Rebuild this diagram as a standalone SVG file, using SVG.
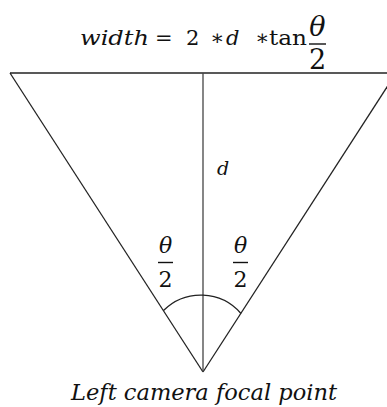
<svg xmlns="http://www.w3.org/2000/svg" width="387" height="407" viewBox="0 0 387 407">
<style>
.ln{stroke:#222;stroke-width:1.3;fill:none}
.t{font-family:"DejaVu Serif","Liberation Serif",serif;font-size:21px;fill:#111}
.i{font-style:italic}
.f{font-size:22px}
.big{font-size:27px}
.bar{stroke:#111;stroke-width:1.4}
</style>
<rect width="387" height="407" fill="#fff"/>
<g id="connectors">
<line class="ln" x1="10" y1="73" x2="387" y2="73"/>
<line class="ln" x1="10" y1="73" x2="203" y2="372"/>
<line class="ln" x1="396" y1="73" x2="203" y2="372"/>
<line class="ln" x1="203" y1="73" x2="203" y2="372" style="stroke:#444"/>
<path class="ln" d="M163.5,310.5 A53,53 0 0 1 241,313.5"/>
</g>
<g id="formula">
<text class="t i" x="80" y="45" textLength="69" lengthAdjust="spacingAndGlyphs">width</text>
<text class="t" x="155" y="45">=</text>
<text class="t" x="186" y="45">2</text>
<text class="t" x="210" y="45">∗</text>
<text class="t i" x="226" y="45">d</text>
<text class="t" x="255" y="45">∗</text>
<text class="t" x="269" y="45" textLength="38" lengthAdjust="spacingAndGlyphs">tan</text>
<text class="t i big" x="317.5" y="36" text-anchor="middle">θ</text>
<line class="bar" x1="309" y1="44" x2="326" y2="44"/>
<text class="t big" x="317.5" y="69" text-anchor="middle">2</text>
</g>
<g id="label-d">
<text class="t i" style="font-size:19px" x="217" y="175">d</text>
</g>
<g id="angle-left">
<text class="t i f" x="165.5" y="253" text-anchor="middle">θ</text>
<line class="bar" x1="158" y1="262.5" x2="173" y2="262.5"/>
<text class="t f" x="165.5" y="287" text-anchor="middle">2</text>
</g>
<g id="angle-right">
<text class="t i f" x="240.5" y="253" text-anchor="middle">θ</text>
<line class="bar" x1="233" y1="262.5" x2="248" y2="262.5"/>
<text class="t f" x="240.5" y="287" text-anchor="middle">2</text>
</g>
<g id="focal-label">
<text class="t i f" x="71" y="400" textLength="266" lengthAdjust="spacingAndGlyphs">Left camera focal point</text>
</g>
</svg>
